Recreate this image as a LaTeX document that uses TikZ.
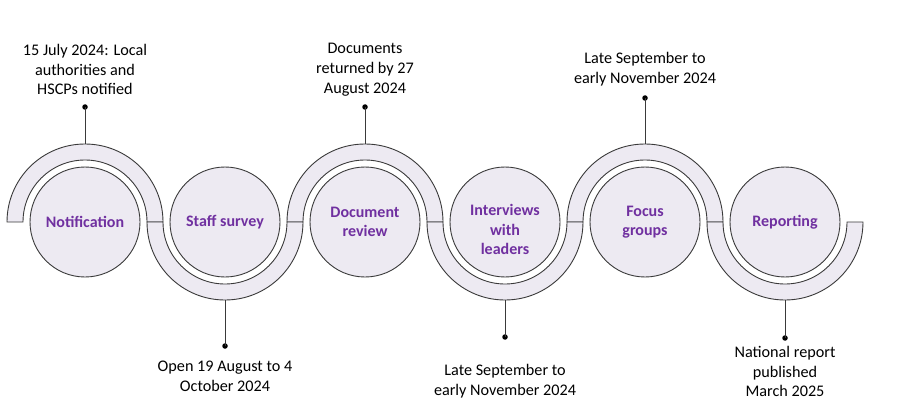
\documentclass[tikz,border=0pt]{standalone}
\usepackage{fontspec}
\setmainfont{Carlito}
\definecolor{ringfill}{HTML}{EDEAF2}
\definecolor{labpurple}{HTML}{7030A0}
\definecolor{edge}{HTML}{3A3A3A}
\begin{document}
\begin{tikzpicture}[x=1pt,y=1pt,
  stage/.style={circle,draw=edge,fill=ringfill,line width=0.9pt,minimum size=110pt,inner sep=0pt,
    align=center,text=labpurple,font=\fontsize{16}{19.5}\selectfont\bfseries},
  stagetext/.style={align=center,text=labpurple,font=\fontsize{16}{19.5}\selectfont\bfseries,inner sep=0pt},
  ring/.style={draw=edge,fill=ringfill,line width=0.9pt},
  note/.style={align=center,text=black,font=\fontsize{16.2}{19.7}\selectfont,inner sep=0pt},
  stem/.style={draw=edge,line width=0.9pt},
  pin/.style={circle,fill=black,inner sep=0pt,minimum size=5.5pt}]
\useasboundingbox (0,0) rectangle (903,416);
% rings
\foreach \cx in {85,365,645}{
  \path[ring] (\cx-78,194) arc[start angle=180,end angle=0,radius=78] -- (\cx+62,194)
     arc[start angle=0,end angle=180,radius=62] -- cycle;
}
\foreach \cx in {225,505,785}{
  \path[ring] (\cx-78,194) arc[start angle=180,end angle=360,radius=78] -- (\cx+62,194)
     arc[start angle=360,end angle=180,radius=62] -- cycle;
}
% stages
\node[stage] (s1) at (85,194) {Notification};
\node[stage] (s2) at (225,194) {Staff survey};
\node[stage] (s3) at (365,194) {Document\\review};
\node[stage] (s4) at (505,194) {};
\node[stagetext] (s4t) at (505,186.5) {Interviews\\with\\leaders};
\node[stage] (s5) at (645,194) {Focus\\groups};
\node[stage] (s6) at (785,194) {Reporting};
% ring extremes
\coordinate (r1) at (85,272);
\coordinate (r2) at (225,116);
\coordinate (r3) at (365,272);
\coordinate (r4) at (505,116);
\coordinate (r5) at (645,272);
\coordinate (r6) at (785,116);
% pins
\node[pin] (p1) at (85,309) {};
\node[pin] (p2) at (225,70) {};
\node[pin] (p3) at (365,309) {};
\node[pin] (p4) at (505,79) {};
\node[pin] (p5) at (645,318) {};
\node[pin] (p6) at (785,78) {};
\foreach \i in {1,...,6}{ \draw[stem] (r\i) -- (p\i.center); }
% notes
\node[note] (n1) at (85,346.5) {15 July 2024: Local\\authorities and\\HSCPs notified};
\node[note] (n2) at (225,40) {Open 19 August to 4\\October 2024};
\node[note] (n3) at (365,346.5) {Documents\\returned by 27\\August 2024};
\node[note] (n4) at (505,35) {Late September to\\early November 2024};
\node[note] (n5) at (645,347) {Late September to\\early November 2024};
\node[note] (n6) at (785,44.5) {National report\\published\\March 2025};
\end{tikzpicture}
\end{document}
